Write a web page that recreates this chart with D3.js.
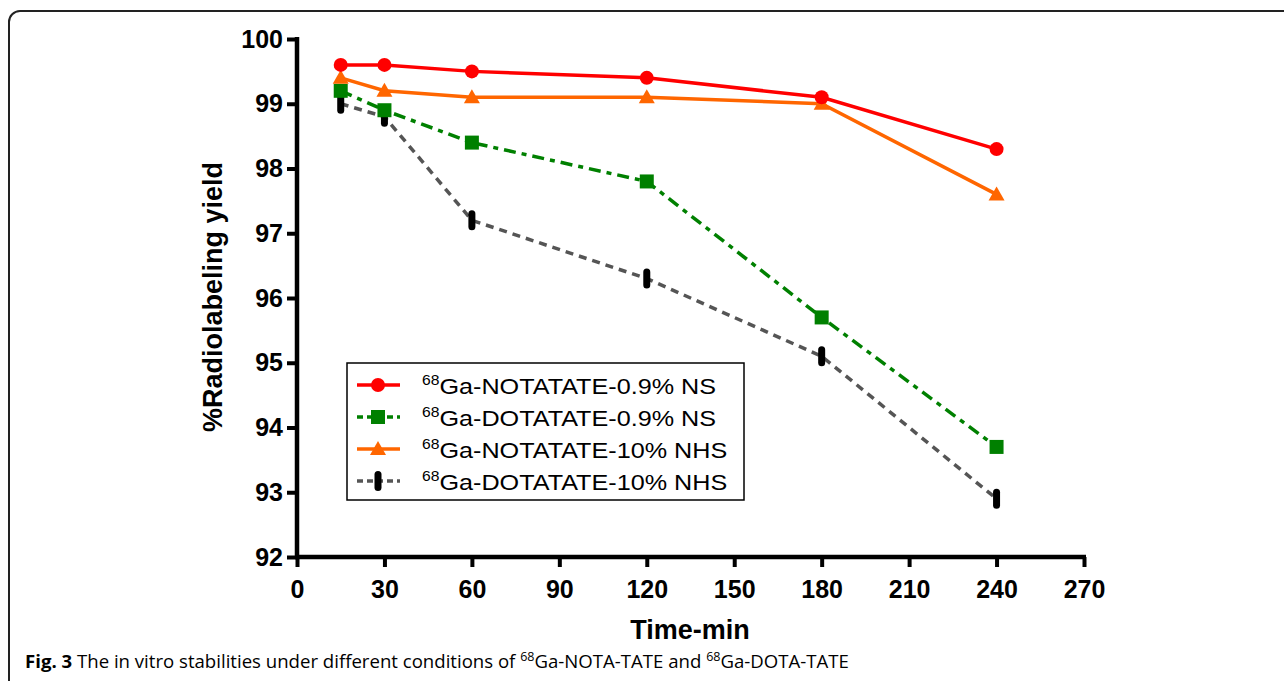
<!DOCTYPE html>
<html>
<head>
<meta charset="utf-8">
<script src="https://cdn.jsdelivr.net/npm/d3@7"></script>
<style>
  body { margin: 0; background: #fff; }
  svg { display: block; }
  .tick-label { font-family: "Liberation Sans", Arial, sans-serif; font-weight: bold; font-size: 25px; }
  .axis-title { font-family: "Liberation Sans", Arial, sans-serif; font-weight: bold; font-size: 27px; }
  .legend-text { font-family: "Liberation Sans", Arial, sans-serif; font-size: 22.5px; }
  .caption { font-family: "Open Sans", sans-serif; font-size: 18.6px; }
</style>
</head>
<body>
<svg id="chart" width="1284" height="681"></svg>
<script>
  'use strict';

  // time points (min)
  var times = [15, 30, 60, 120, 180, 240];

  var seriesNames = [
    'Ga-NOTATATE-0.9% NS',
    'Ga-DOTATATE-0.9% NS',
    'Ga-NOTATATE-10% NHS',
    'Ga-DOTATATE-10% NHS'
  ];

  var notaNS = [99.6, 99.6, 99.5, 99.4, 99.1, 98.3];
  var dotaNS = [99.2, 98.9, 98.4, 97.8, 95.7, 93.7];
  var notaNHS = [99.4, 99.2, 99.1, 99.1, 99.0, 97.6];
  var dotaNHS = [99.0, 98.8, 97.2, 96.3, 95.1, 92.9];

  var xTicks = [0, 30, 60, 90, 120, 150, 180, 210, 240, 270];
  var yTicks = [92, 93, 94, 95, 96, 97, 98, 99, 100];

  var series = [
    { name: seriesNames[0], values: notaNS, color: '#ff0000', dash: null, marker: 'circle' },
    { name: seriesNames[1], values: dotaNS, color: '#008000', dash: '12,6,5,6', marker: 'square' },
    { name: seriesNames[2], values: notaNHS, color: '#ff6600', dash: null, marker: 'triangle' },
    { name: seriesNames[3], values: dotaNHS, color: '#555555', dash: '8,6', marker: 'pill' }
  ];

  var svg = d3.select('#chart');

  // figure frame (rounded, runs off the right/bottom edge)
  svg.append('rect')
    .attr('x', 9).attr('y', 11)
    .attr('width', 1300).attr('height', 720)
    .attr('rx', 11)
    .attr('fill', 'none')
    .attr('stroke', '#222')
    .attr('stroke-width', 2);

  var x = d3.scaleLinear().domain([0, 270]).range([297, 1084]);
  var y = d3.scaleLinear().domain([92, 100]).range([557, 39]);

  // axes
  var xAxis = svg.append('g')
    .attr('transform', 'translate(0,' + y(92) + ')')
    .call(d3.axisBottom(x).tickValues(xTicks).tickSize(10).tickPadding(8).tickSizeOuter(0));
  var yAxis = svg.append('g')
    .attr('transform', 'translate(' + x(0) + ',0)')
    .call(d3.axisLeft(y).tickValues(yTicks).tickSize(10).tickPadding(4).tickSizeOuter(0));

  [xAxis, yAxis].forEach(function(ax) {
    ax.select('.domain').attr('stroke', '#000').attr('stroke-width', 4.5);
    ax.selectAll('.tick line').attr('stroke', '#000').attr('stroke-width', 4);
    ax.selectAll('.tick text').attr('class', 'tick-label').attr('fill', '#000');
  });
  // extend domain lines a little to make square corners
  xAxis.select('.domain').attr('d', 'M' + (x(0) - 2) + ',0H' + (x(270) + 2));
  yAxis.select('.domain').attr('d', 'M0,' + (y(100) - 2) + 'V' + (y(92) + 2));
  xAxis.selectAll('.tick text').attr('dy', '0.9em');

  // axis titles
  svg.append('text')
    .attr('class', 'axis-title')
    .attr('x', 690).attr('y', 639)
    .attr('text-anchor', 'middle')
    .text('Time-min');

  svg.append('text')
    .attr('class', 'axis-title')
    .attr('font-size', 29.5)
    .attr('transform', 'translate(222,' + 297 + ') rotate(-90)')
    .attr('text-anchor', 'middle')
    .text('%Radiolabeling yield');

  var line = d3.line()
    .x(function(d) { return x(d[0]); })
    .y(function(d) { return y(d[1]); });

  function drawMarker(g, type, color) {
    if (type === 'circle') {
      g.append('circle').attr('r', 7).attr('fill', color);
    } else if (type === 'square') {
      g.append('rect').attr('x', -7).attr('y', -7).attr('width', 14).attr('height', 14).attr('fill', color);
    } else if (type === 'triangle') {
      g.append('path').attr('d', 'M0,-8L8,6L-8,6Z').attr('fill', color);
    } else {
      g.append('rect').attr('x', -3.5).attr('y', -10).attr('width', 7).attr('height', 20)
        .attr('rx', 3.5).attr('fill', '#000');
    }
  }

  // draw series in back-to-front order
  [3, 1, 2, 0].forEach(function(si) {
    var s = series[si];
    var pts = times.map(function(t, i) { return [t, s.values[i]]; });
    var g = svg.append('g');
    g.append('path')
      .datum(pts)
      .attr('d', line)
      .attr('fill', 'none')
      .attr('stroke', s.color)
      .attr('stroke-width', 3.5)
      .attr('stroke-dasharray', s.dash);
    g.selectAll('g.mark')
      .data(pts)
      .enter()
      .append('g')
      .attr('class', 'mark')
      .attr('transform', function(d) { return 'translate(' + x(d[0]) + ',' + y(d[1]) + ')'; })
      .each(function() { drawMarker(d3.select(this), s.marker, s.color); });
  });

  // legend
  var legend = svg.append('g');
  legend.append('rect')
    .attr('x', 347).attr('y', 363)
    .attr('width', 397).attr('height', 137)
    .attr('fill', '#fff')
    .attr('stroke', '#000')
    .attr('stroke-width', 1.5);

  var rows = legend.selectAll('g.row')
    .data(series)
    .enter()
    .append('g')
    .attr('class', 'row')
    .attr('transform', function(d, i) { return 'translate(0,' + (385 + i * 32) + ')'; });

  rows.append('line')
    .attr('x1', 357).attr('x2', 400)
    .attr('stroke', function(d) { return d.color; })
    .attr('stroke-width', 3.5)
    .attr('stroke-dasharray', function(d) { return d.dash ? '6,4' : null; });

  rows.append('g')
    .attr('transform', 'translate(378,0)')
    .each(function(d) { drawMarker(d3.select(this), d.marker, d.color); });

  // the legend lettering in the original is a little wide, so stretch it
  var lt = rows.append('text')
    .attr('class', 'legend-text')
    .attr('transform', 'translate(422,9) scale(1.12,1)');
  lt.append('tspan').attr('font-size', 14).attr('dy', -9).text('68');
  lt.append('tspan').attr('dy', 9).text(function(d) { return d.name; });

  // caption
  var cap = svg.append('text')
    .attr('class', 'caption')
    .attr('x', 25).attr('y', 668);
  cap.append('tspan').attr('font-weight', 'bold').text('Fig. 3');
  cap.append('tspan').text(' The in vitro stabilities under different conditions of ');
  cap.append('tspan').attr('font-size', 12.5).attr('dy', -7).text('68');
  cap.append('tspan').attr('dy', 7).text('Ga-NOTA-TATE and ');
  cap.append('tspan').attr('font-size', 12.5).attr('dy', -7).text('68');
  cap.append('tspan').attr('dy', 7).text('Ga-DOTA-TATE');
</script>
</body>
</html>
